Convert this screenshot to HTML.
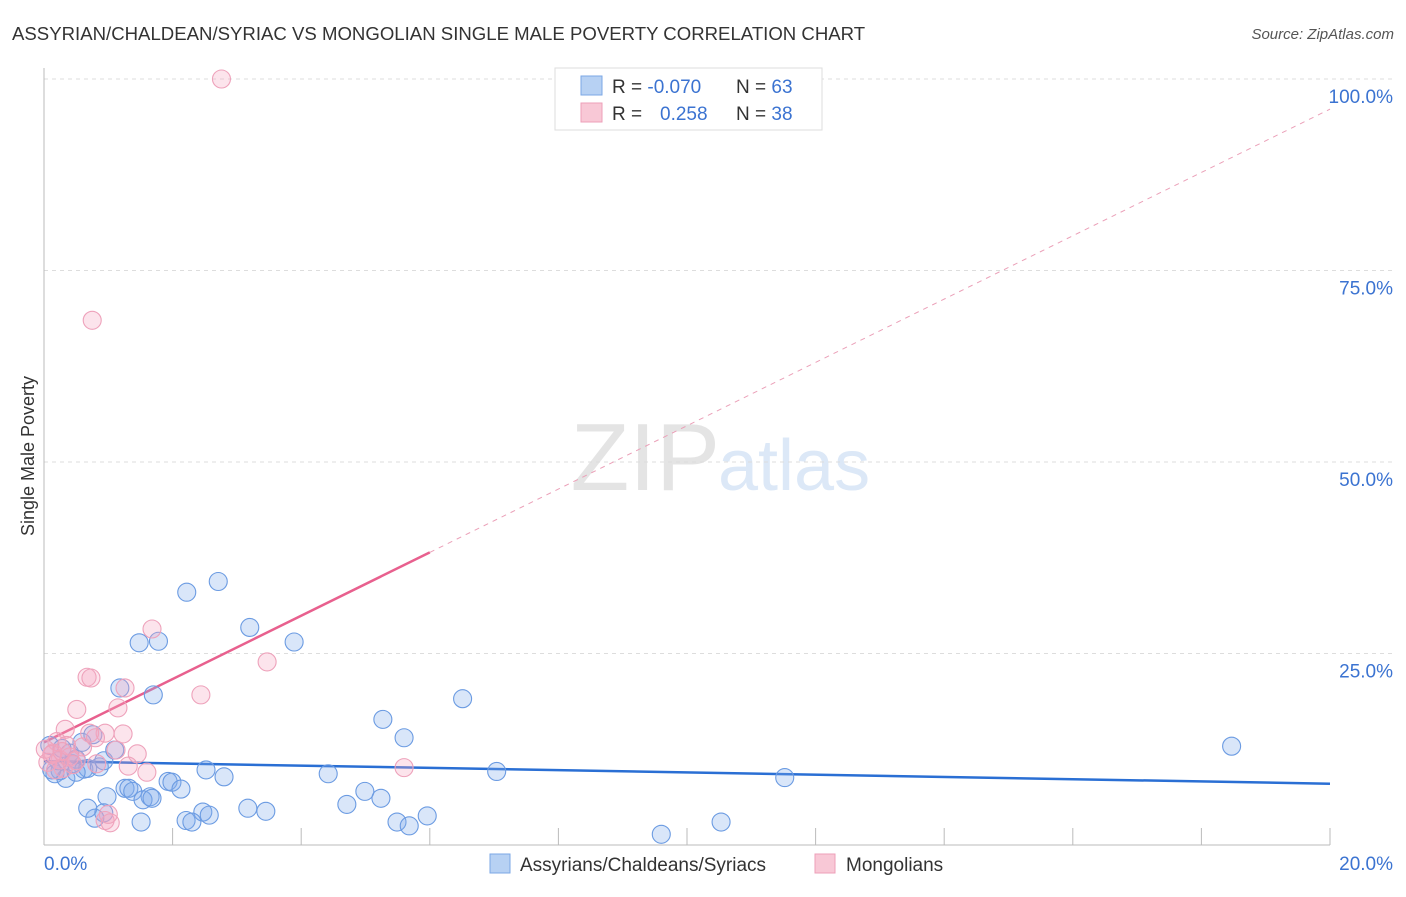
<!DOCTYPE html>
<html><head><meta charset="utf-8"><style>
body{margin:0;background:#fff;font-family:"Liberation Sans",sans-serif;}
svg text{font-family:"Liberation Sans",sans-serif;}
</style></head><body>
<svg width="1406" height="892" xmlns="http://www.w3.org/2000/svg">
<text x="12" y="40" font-size="18.6" fill="#333">ASSYRIAN/CHALDEAN/SYRIAC VS MONGOLIAN SINGLE MALE POVERTY CORRELATION CHART</text>
<text x="1394" y="39" font-size="15" fill="#555" font-style="italic" text-anchor="end">Source: ZipAtlas.com</text>
<text x="720" y="490" font-size="96" fill="#e4e4e4" text-anchor="end" font-family="Liberation Serif">ZIP</text>
<text x="718" y="490" font-size="72" fill="#dce8f7">atlas</text>
<g id="grid"></g>
<g id="axes"></g>
<g id="trend"></g>
<g id="pts"></g>
<text transform="translate(34,456) rotate(-90)" font-size="18" fill="#333" text-anchor="middle">Single Male Poverty</text>
<g>
<rect x="555" y="68" width="267" height="62" fill="#fff" stroke="#ddd"/>
<rect x="581" y="76" width="21" height="19" fill="#b7d1f3" stroke="#7ba7e6"/>
<rect x="581" y="103" width="21" height="19" fill="#f8c8d6" stroke="#ee9fb8"/>
<text x="612" y="93" font-size="19" fill="#333">R = <tspan fill="#3b73d1">-0.070</tspan></text>
<text x="736" y="93" font-size="19" fill="#333">N = <tspan fill="#3b73d1">63</tspan></text>
<text x="612" y="120" font-size="19" fill="#333">R = <tspan x="660" fill="#3b73d1">0.258</tspan></text>
<text x="736" y="120" font-size="19" fill="#333">N = <tspan fill="#3b73d1">38</tspan></text>
</g>
<g>
<rect x="490" y="854" width="20" height="19" fill="#b7d1f3" stroke="#7ba7e6"/>
<text x="520" y="871" font-size="19" fill="#333">Assyrians/Chaldeans/Syriacs</text>
<rect x="815" y="854" width="20" height="19" fill="#f8c8d6" stroke="#ee9fb8"/>
<text x="846" y="871" font-size="19" fill="#333">Mongolians</text>
</g>
</svg>
<script>
const xTicks=[0,2,4,6,8,10,12,14,16,18,20];
const yTicks=[25,50,75,100];
const yTickLabels=["25.0%","50.0%","75.0%","100.0%"];
const xEndLabels=["0.0%","20.0%"];
const blueX=[0.17,0.25,0.34,0.22,0.4,0.44,0.5,0.62,0.68,0.86,0.93,1.1,0.59,0.76,1.26,1.32,1.38,1.65,1.54,1.68,1.93,1.99,2.13,2.52,2.8,3.17,3.45,2.47,2.57,2.21,2.3,1.51,0.98,0.93,0.79,0.68,4.71,4.99,5.24,4.42,5.49,5.68,5.96,7.04,9.6,10.53,11.52,18.47,0.09,0.12,0.28,0.5,2.71,2.22,3.2,1.48,1.78,3.89,1.7,1.18,6.51,5.27,5.6];
const blueY=[9.3,9.7,8.7,11.0,12.0,10.6,11.2,9.9,10.0,10.2,11.0,12.4,13.4,14.4,7.4,7.4,7.0,6.3,5.9,6.1,8.3,8.2,7.3,9.8,8.9,4.8,4.4,4.3,3.9,3.2,3.0,3.0,6.3,4.2,3.5,4.8,5.3,7.0,6.1,9.3,3.0,2.5,3.8,9.6,1.4,3.0,8.8,12.9,13.0,9.8,12.6,9.5,34.4,33.0,28.4,26.4,26.6,26.5,19.6,20.5,19.1,16.4,14.0];
const pinkX=[2.76,0.75,1.68,3.47,0.67,0.73,1.26,2.44,1.15,0.51,1.23,0.95,0.71,0.33,1.45,1.6,1.31,1.12,0.82,0.95,1.03,0.14,0.25,5.6,0.2,0.06,0.02,0.4,0.3,0.6,0.12,0.35,0.5,0.8,0.18,0.45,1.0,0.28];
const pinkY=[100,68.5,28.2,23.9,21.9,21.8,20.5,19.6,17.9,17.7,14.5,14.6,14.6,15.1,11.9,9.5,10.3,12.4,10.6,3.2,2.9,12.0,11.1,10.1,13.5,10.8,12.5,11.5,10.0,12.8,11.8,13.0,11.0,14.0,9.8,10.5,4.0,12.2];
const blueTrend=[10.95,8.0];
const pinkTrend=[13.4,38.2];
const X=v=>44+v/20*1286, Y=v=>845-v/100*766;
const NS="http://www.w3.org/2000/svg";
function mk(tag,attrs,parent){const e=document.createElementNS(NS,tag);for(const k in attrs)e.setAttribute(k,attrs[k]);document.getElementById(parent).appendChild(e);return e;}
yTicks.forEach((t,i)=>{
  const g=mk('line',{x1:44,x2:1394,y1:Y(t),y2:Y(t),stroke:'#ddd','stroke-dasharray':'4,4'},'grid');
  
  
  const l=mk('text',{x:1393,y:Y(t)+24,'font-size':19,fill:'#3b73d1','text-anchor':'end'},'grid');
  l.textContent=yTickLabels[i];
  
  
});
const ax=mk('line',{x1:44,x2:1330,y1:845,y2:845,stroke:'#bbb'},'axes');


const ay=mk('line',{x1:44,x2:44,y1:68,y2:845,stroke:'#bbb'},'axes');


xTicks.forEach(t=>{
  const k=mk('line',{x1:X(t),x2:X(t),y1:828,y2:845,stroke:'#bbb'},'axes');
  
  
});
[[0,44,'start'],[20,1393,'end']].forEach((a,i)=>{
  const t=mk('text',{x:a[1],y:870,'font-size':19,fill:'#3b73d1','text-anchor':a[2]},'axes');
  t.textContent=xEndLabels[i];
  
  
});
function pts(xs,ys,fill,stroke,name){xs.forEach((x,i)=>{
  const c=mk('circle',{cx:X(x),cy:Y(ys[i]),r:9,fill:fill,stroke:stroke,'stroke-width':1.1},'pts');
  
  
});}
pts(blueX,blueY,'rgba(130,172,235,0.3)','#6b9be2','point-assyrians');
pts(pinkX,pinkY,'rgba(244,165,192,0.3)','#eea2bb','point-mongolians');
const bt=mk('line',{x1:X(0),y1:Y(blueTrend[0]),x2:X(20),y2:Y(blueTrend[1]),stroke:'#2a6fd4','stroke-width':2.5},'trend');


const ps=(pinkTrend[1]-pinkTrend[0])/6;
const pt=mk('line',{x1:X(0),y1:Y(pinkTrend[0]),x2:X(6),y2:Y(pinkTrend[1]),stroke:'#e8608e','stroke-width':2.5},'trend');


const pd=mk('line',{x1:X(6),y1:Y(pinkTrend[1]),x2:X(20),y2:Y(pinkTrend[0]+ps*20),stroke:'#eba0b8','stroke-width':1,'stroke-dasharray':'5,5'},'trend');


</script>
</body></html>
